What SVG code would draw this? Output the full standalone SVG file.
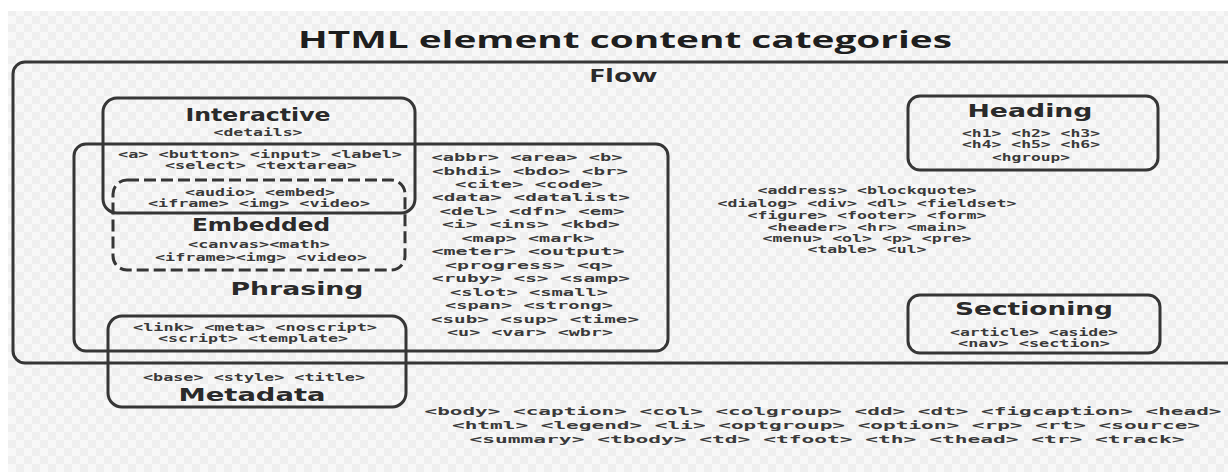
<svg xmlns="http://www.w3.org/2000/svg" width="1228" height="472" viewBox="0 0 1228 472">
<style>
.box{fill:none;stroke:#363636;stroke-width:3}
.dash{stroke-dasharray:12 5}
.lbl{font-family:"DejaVu Sans",sans-serif;font-weight:bold;font-size:17px;fill:#2a2a2a;text-anchor:middle}
.t{font-family:"DejaVu Sans Mono",monospace;font-weight:bold;font-size:11px;fill:#3a3a3a;text-anchor:middle}
.ttl{font-family:"Open Sans",sans-serif;font-weight:bold;font-size:24px;fill:#1e1e1e;text-anchor:middle}
.flw{font-family:"Open Sans",sans-serif;font-weight:bold;font-size:18px;fill:#2a2a2a;text-anchor:middle}
</style>
<defs>
<pattern id="chk" width="16" height="16" patternUnits="userSpaceOnUse">
<rect width="16" height="16" fill="#f8f8f8"/>
<rect width="8" height="8" fill="#efefef"/>
<rect x="8" y="8" width="8" height="8" fill="#efefef"/>
</pattern>
</defs>
<rect width="1228" height="472" fill="#ffffff"/>
<rect x="8" y="11" width="1220" height="461" fill="url(#chk)"/>
<text class="ttl" x="625" y="48" textLength="654" lengthAdjust="spacingAndGlyphs">HTML element content categories</text>

<g id="flow">
<rect class="box" x="13" y="62" width="1235" height="301" rx="12"/>
<text class="flw" x="623" y="82" textLength="68" lengthAdjust="spacingAndGlyphs">Flow</text>
<text class="t" x="867" y="194" textLength="219" lengthAdjust="spacingAndGlyphs">&lt;address&gt; &lt;blockquote&gt;</text>
<text class="t" x="867" y="207" textLength="299" lengthAdjust="spacingAndGlyphs">&lt;dialog&gt; &lt;div&gt; &lt;dl&gt; &lt;fieldset&gt;</text>
<text class="t" x="867" y="219" textLength="239" lengthAdjust="spacingAndGlyphs">&lt;figure&gt; &lt;footer&gt; &lt;form&gt;</text>
<text class="t" x="867" y="231" textLength="199" lengthAdjust="spacingAndGlyphs">&lt;header&gt; &lt;hr&gt; &lt;main&gt;</text>
<text class="t" x="867" y="242" textLength="209" lengthAdjust="spacingAndGlyphs">&lt;menu&gt; &lt;ol&gt; &lt;p&gt; &lt;pre&gt;</text>
<text class="t" x="867" y="253" textLength="119" lengthAdjust="spacingAndGlyphs">&lt;table&gt; &lt;ul&gt;</text>
</g>

<g id="phrasing">
<rect class="box" x="74" y="144" width="594" height="207" rx="12"/>
<text class="lbl" x="297" y="295" textLength="133" lengthAdjust="spacingAndGlyphs">Phrasing</text>
<text class="t" x="527" y="161" textLength="191" lengthAdjust="spacingAndGlyphs">&lt;abbr&gt; &lt;area&gt; &lt;b&gt;</text>
<text class="t" x="530" y="174.5" textLength="196" lengthAdjust="spacingAndGlyphs">&lt;bhdi&gt; &lt;bdo&gt; &lt;br&gt;</text>
<text class="t" x="529" y="188" textLength="148" lengthAdjust="spacingAndGlyphs">&lt;cite&gt; &lt;code&gt;</text>
<text class="t" x="531" y="201.4" textLength="198" lengthAdjust="spacingAndGlyphs">&lt;data&gt; &lt;datalist&gt;</text>
<text class="t" x="532" y="214.8" textLength="185" lengthAdjust="spacingAndGlyphs">&lt;del&gt; &lt;dfn&gt; &lt;em&gt;</text>
<text class="t" x="531" y="228.3" textLength="178" lengthAdjust="spacingAndGlyphs">&lt;i&gt; &lt;ins&gt; &lt;kbd&gt;</text>
<text class="t" x="528" y="241.8" textLength="133" lengthAdjust="spacingAndGlyphs">&lt;map&gt; &lt;mark&gt;</text>
<text class="t" x="528" y="255.2" textLength="193" lengthAdjust="spacingAndGlyphs">&lt;meter&gt; &lt;output&gt;</text>
<text class="t" x="529" y="268.7" textLength="168" lengthAdjust="spacingAndGlyphs">&lt;progress&gt; &lt;q&gt;</text>
<text class="t" x="531" y="282.1" textLength="198" lengthAdjust="spacingAndGlyphs">&lt;ruby&gt; &lt;s&gt; &lt;samp&gt;</text>
<text class="t" x="529" y="295.6" textLength="158" lengthAdjust="spacingAndGlyphs">&lt;slot&gt; &lt;small&gt;</text>
<text class="t" x="529" y="309" textLength="168" lengthAdjust="spacingAndGlyphs">&lt;span&gt; &lt;strong&gt;</text>
<text class="t" x="535" y="322.5" textLength="208" lengthAdjust="spacingAndGlyphs">&lt;sub&gt; &lt;sup&gt; &lt;time&gt;</text>
<text class="t" x="530" y="336" textLength="166" lengthAdjust="spacingAndGlyphs">&lt;u&gt; &lt;var&gt; &lt;wbr&gt;</text>
</g>

<g id="interactive">
<rect class="box" x="103" y="98" width="312" height="115" rx="14"/>
<text class="lbl" x="258" y="121" textLength="145" lengthAdjust="spacingAndGlyphs">Interactive</text>
<text class="t" x="258" y="136" textLength="89" lengthAdjust="spacingAndGlyphs">&lt;details&gt;</text>
<text class="t" x="260" y="158" textLength="284" lengthAdjust="spacingAndGlyphs">&lt;a&gt; &lt;button&gt; &lt;input&gt; &lt;label&gt;</text>
<text class="t" x="261" y="169" textLength="192" lengthAdjust="spacingAndGlyphs">&lt;select&gt; &lt;textarea&gt;</text>
</g>

<g id="embedded">
<rect class="box dash" x="113" y="180" width="292" height="90" rx="14"/>
<text class="t" x="260" y="196" textLength="150" lengthAdjust="spacingAndGlyphs">&lt;audio&gt; &lt;embed&gt;</text>
<text class="t" x="259" y="207" textLength="222" lengthAdjust="spacingAndGlyphs">&lt;iframe&gt; &lt;img&gt; &lt;video&gt;</text>
<text class="lbl" x="261" y="231" textLength="138" lengthAdjust="spacingAndGlyphs">Embedded</text>
<text class="t" x="259" y="248" textLength="142" lengthAdjust="spacingAndGlyphs">&lt;canvas&gt;&lt;math&gt;</text>
<text class="t" x="261" y="261" textLength="212" lengthAdjust="spacingAndGlyphs">&lt;iframe&gt;&lt;img&gt; &lt;video&gt;</text>
</g>

<g id="metadata">
<rect class="box" x="108" y="316" width="298" height="91" rx="14"/>
<text class="t" x="255" y="331" textLength="244" lengthAdjust="spacingAndGlyphs">&lt;link&gt; &lt;meta&gt; &lt;noscript&gt;</text>
<text class="t" x="253" y="342" textLength="190" lengthAdjust="spacingAndGlyphs">&lt;script&gt; &lt;template&gt;</text>
<text class="t" x="254" y="381" textLength="222" lengthAdjust="spacingAndGlyphs">&lt;base&gt; &lt;style&gt; &lt;title&gt;</text>
<text class="lbl" x="252" y="401" textLength="147" lengthAdjust="spacingAndGlyphs">Metadata</text>
</g>

<g id="heading">
<rect class="box" x="908" y="96" width="250" height="74" rx="12"/>
<text class="lbl" x="1030" y="117" textLength="125" lengthAdjust="spacingAndGlyphs">Heading</text>
<text class="t" x="1031" y="137" textLength="138" lengthAdjust="spacingAndGlyphs">&lt;h1&gt; &lt;h2&gt; &lt;h3&gt;</text>
<text class="t" x="1031" y="148" textLength="138" lengthAdjust="spacingAndGlyphs">&lt;h4&gt; &lt;h5&gt; &lt;h6&gt;</text>
<text class="t" x="1031" y="161" textLength="78" lengthAdjust="spacingAndGlyphs">&lt;hgroup&gt;</text>
</g>

<g id="sectioning">
<rect class="box" x="908" y="295" width="252" height="58" rx="12"/>
<text class="lbl" x="1034" y="315" textLength="158" lengthAdjust="spacingAndGlyphs">Sectioning</text>
<text class="t" x="1034" y="336" textLength="168" lengthAdjust="spacingAndGlyphs">&lt;article&gt; &lt;aside&gt;</text>
<text class="t" x="1034" y="347" textLength="152" lengthAdjust="spacingAndGlyphs">&lt;nav&gt; &lt;section&gt;</text>
</g>

<g id="other">
<text class="t" x="823" y="415" textLength="797" lengthAdjust="spacingAndGlyphs">&lt;body&gt; &lt;caption&gt; &lt;col&gt; &lt;colgroup&gt; &lt;dd&gt; &lt;dt&gt; &lt;figcaption&gt; &lt;head&gt;</text>
<text class="t" x="826" y="429" textLength="748" lengthAdjust="spacingAndGlyphs">&lt;html&gt; &lt;legend&gt; &lt;li&gt; &lt;optgroup&gt; &lt;option&gt; &lt;rp&gt; &lt;rt&gt; &lt;source&gt;</text>
<text class="t" x="827" y="443" textLength="715" lengthAdjust="spacingAndGlyphs">&lt;summary&gt; &lt;tbody&gt; &lt;td&gt; &lt;tfoot&gt; &lt;th&gt; &lt;thead&gt; &lt;tr&gt; &lt;track&gt;</text>
</g>

<g id="connectors"/>
</svg>
